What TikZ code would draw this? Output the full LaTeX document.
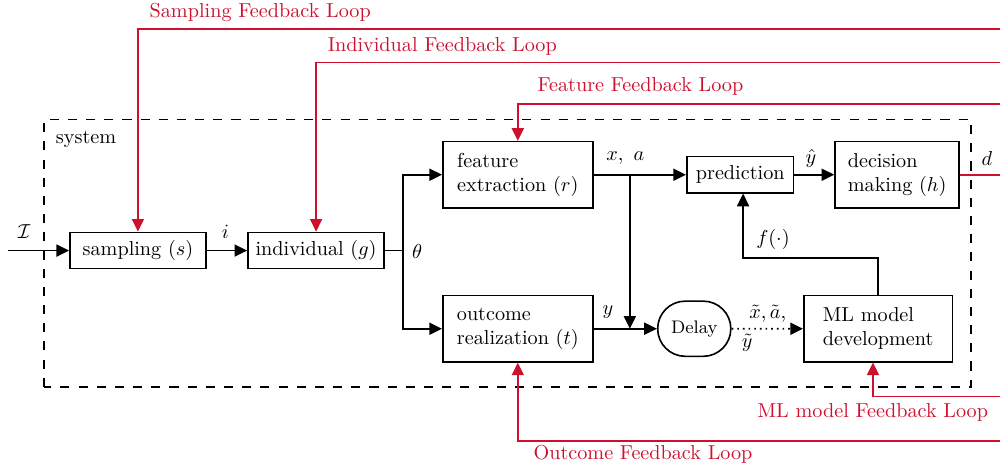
\documentclass[tikz,border=0pt]{standalone}
\definecolor{loopred}{RGB}{204, 16, 46}
\usepackage{tikz}
\usetikzlibrary{arrows.meta,positioning,shapes}

\begin{document}
\begin{tikzpicture}[
    block/.style={draw, thick, minimum height=0.63cm},
    flow/.style={-{Triangle[length=2.2mm, width=2.1mm]}, thick},
    fbline/.style={thick, loopred},
    fbarrow/.style={flow, loopred}]
    \useasboundingbox (0,0) rectangle (17.4,8.14);

    % system boundary
    \draw[thick, dash pattern=on 4.5pt off 4.5pt] (0.77,1.41) rectangle (16.90,6.06);
    \node[anchor=west] (syslbl) at (0.85,5.72) {system};

    % blocks
    \node[block, minimum width=2.37cm] (samp) at (2.40,3.78) {sampling $(s)$};
    \node[block, minimum width=2.37cm] (indiv) at (5.50,3.78) {individual $(g)$};
    \node[block, align=left, minimum width=2.61cm, minimum height=1.15cm] (feat) at (9.01,5.10) {feature\\extraction $(r)$};
    \node[block, align=left, minimum width=2.61cm, minimum height=1.15cm] (outc) at (9.01,2.42) {outcome\\realization $(t)$};
    \node[block, minimum width=1.86cm] (pred) at (12.88,5.10) {prediction};
    \node[block, align=left, minimum width=2.16cm, minimum height=1.15cm] (dec) at (15.61,5.10) {decision\\making $(h)$};
    \node[draw, thick, rounded rectangle, inner xsep=6pt, minimum height=0.96cm, font=\small] (delay) at (12.08,2.42) {Delay};
    \node[block, align=left, minimum width=2.59cm, minimum height=1.15cm] (ml) at (15.28,2.42) {ML model\\development};

    % points on the lines
    \coordinate (in) at (0.14,3.78);
    \coordinate (br) at (7.01,3.78);
    \coordinate (jn) at (10.96,5.10);
    \coordinate (fk) at (12.93,3.65);
    \coordinate (dend) at (17.4,5.10);

    % main flow
    \draw[flow] (in) -- (samp);
    \draw[flow] (samp) -- (indiv);
    \draw[thick] (indiv) -- (br);
    \draw[flow] (br) |- (feat);
    \draw[flow] (br) |- (outc);
    \draw[flow] (feat) -- (pred);
    \draw[flow] (jn) -- (jn |- outc.east);
    \draw[flow] (outc) -- (delay);
    \draw[flow, dotted] (delay) -- (ml);
    \draw[flow] (pred) -- (dec);
    \draw[flow] (ml) |- (fk) -- (fk |- pred.south);
    \draw[fbline] (dec) -- (dend);

    % labels
    \node (lI) at (0.42,4.11) {$\mathcal{I}$};
    \node (li) at (3.92,4.11) {$i$};
    \node (lth) at (7.26,3.76) {$\theta$};
    \node (lxa) at (10.88,5.39) {$x,\ a$};
    \node (lyh) at (14.11,5.39) {$\hat{y}$};
    \node (ld) at (17.17,5.39) {$d$};
    \node (ly) at (10.58,2.71) {$y$};
    \node[inner sep=1pt] (lxt) at (13.36,2.68) {$\tilde{x},\tilde{a},$};
    \node[inner sep=1pt] (lyt) at (13.00,2.17) {$\tilde{y}$};
    \node (lf) at (13.45,3.97) {$f(\cdot)$};

    % feedback loops
    \coordinate (sfb) at (17.4,7.64);
    \coordinate (ifb) at (17.4,7.05);
    \coordinate (ffb) at (17.4,6.33);
    \coordinate (mfb) at (17.4,1.24);
    \coordinate (ofb) at (17.4,0.47);
    \draw[fbarrow] (sfb) -| (samp);
    \draw[fbarrow] (ifb) -| (indiv);
    \draw[fbarrow] (ffb) -| (feat);
    \draw[fbarrow] (mfb) -| ([xshift=-0.9mm]ml.south);
    \draw[fbarrow] (ofb) -| (outc);
    \node[anchor=west, text=loopred] (sfbl) at (2.48,7.93) {Sampling Feedback Loop};
    \node[anchor=west, text=loopred] (ifbl) at (5.58,7.33) {Individual Feedback Loop};
    \node[anchor=west, text=loopred] (ffbl) at (9.23,6.63) {Feature Feedback Loop};
    \node[anchor=west, text=loopred] (mfbl) at (13.06,0.96) {ML model Feedback Loop};
    \node[anchor=west, text=loopred] (ofbl) at (9.16,0.23) {Outcome Feedback Loop};
\end{tikzpicture}
\end{document}
